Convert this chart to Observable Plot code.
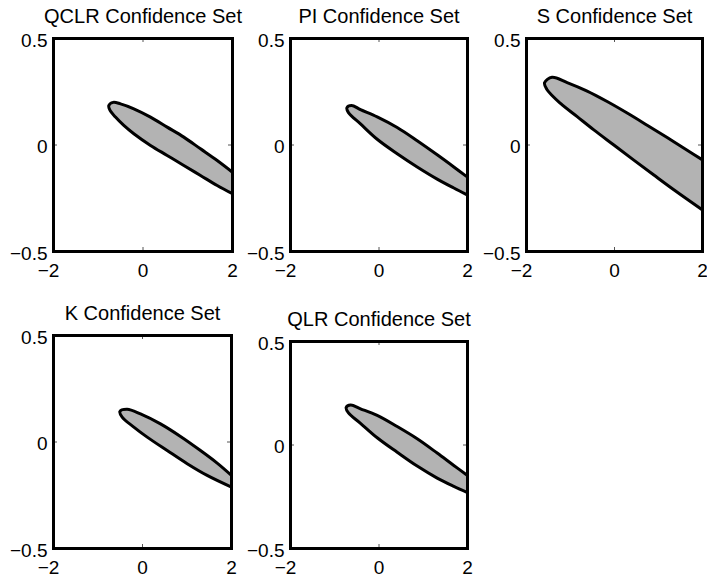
<!DOCTYPE html>
<html><head><meta charset="utf-8">
<script src="https://cdn.jsdelivr.net/npm/d3@7"></script>
<script src="https://cdn.jsdelivr.net/npm/@observablehq/plot@0.6"></script>
<style>
html,body{margin:0;padding:0;background:#fff;overflow:hidden;}
#root{position:relative;width:707px;height:582px;overflow:hidden;font-family:"Liberation Sans",Arial,Helvetica,sans-serif;}
#root svg{position:absolute;}
</style></head><body><div id="root"></div>
<script>
const titles = ["QCLR Confidence Set", "PI Confidence Set", "S Confidence Set", "K Confidence Set", "QLR Confidence Set"];
const xTicks = [-2, 0, 2];
const yTicks = [-0.5, 0, 0.5];

// boundary of each confidence set: upper edge (right to left), rounded tip, lower edge (left to right)
const qclrX = [2, 1.658, 1.285, 0.912, 0.540, 0.168, -0.205, -0.503, -0.666, -0.764, -0.742, -0.615, -0.429, -0.205, 0.168, 0.540, 0.912, 1.285, 1.658, 2];
const qclrY = [-0.128, -0.073, -0.018, 0.037, 0.084, 0.131, 0.170, 0.193, 0.200, 0.185, 0.165, 0.131, 0.092, 0.053, -0.002, -0.049, -0.096, -0.143, -0.190, -0.229];

const piX = [2, 1.691, 1.315, 0.863, 0.411, -0.041, -0.418, -0.620, -0.725, -0.690, -0.418, -0.041, 0.411, 0.863, 1.315, 1.691, 2];
const piY = [-0.151, -0.103, -0.046, 0.020, 0.082, 0.132, 0.166, 0.186, 0.175, 0.152, 0.099, 0.027, -0.041, -0.103, -0.160, -0.202, -0.235];

const sX = [2, 1.652, 1.197, 0.742, 0.288, -0.167, -0.621, -1.076, -1.420, -1.590, -1.540, -1.227, -0.848, -0.470, -0.015, 0.439, 0.894, 1.348, 2];
const sY = [-0.070, -0.025, 0.035, 0.093, 0.150, 0.204, 0.253, 0.293, 0.318, 0.292, 0.262, 0.195, 0.133, 0.071, 0.000, -0.071, -0.141, -0.210, -0.305];

const kX = [2, 1.678, 1.303, 0.854, 0.404, -0.045, -0.345, -0.509, -0.457, -0.195, 0.105, 0.554, 1.004, 1.453, 2];
const kY = [-0.157, -0.099, -0.040, 0.026, 0.085, 0.132, 0.154, 0.143, 0.117, 0.070, 0.023, -0.040, -0.102, -0.157, -0.212];

const qlrX = [2, 1.691, 1.315, 0.863, 0.411, -0.041, -0.418, -0.640, -0.742, -0.690, -0.418, -0.041, 0.411, 0.863, 1.315, 1.691, 2];
const qlrY = [-0.147, -0.099, -0.039, 0.030, 0.089, 0.143, 0.175, 0.193, 0.181, 0.155, 0.105, 0.035, -0.035, -0.102, -0.160, -0.200, -0.230];

const sets = [[qclrX, qclrY], [piX, piY], [sX, sY], [kX, kY], [qlrX, qlrY]];

// layout of each axes box (pixels): left, top, width, height
const layout = [
  {fx: 53, fy: 38, fw: 179, fh: 213},
  {fx: 290, fy: 38, fw: 177, fh: 213},
  {fx: 526, fy: 38, fw: 176, fh: 213},
  {fx: 53, fy: 335, fw: 178, fh: 213},
  {fx: 290, fy: 341, fw: 177, fh: 207}
];

const fmt = d => String(d).replace("-", "\u2212");
const root = document.getElementById("root");
const mL = 60, mR = 14, mT = 34, mB = 40;

sets.forEach(([X, Y], i) => {
  const L = layout[i];
  const pts = X.map((x, j) => ({x, y: Y[j]}));
  const tx = 4 / L.fw * 4, ty = 4 / L.fh;
  const chart = Plot.plot({
    width: L.fw + mL + mR,
    height: L.fh + mT + mB,
    marginLeft: mL, marginRight: mR, marginTop: mT, marginBottom: mB,
    style: {fontFamily: '"Liberation Sans", Arial, Helvetica, sans-serif', fontSize: "19px", background: "transparent", overflow: "visible", color: "black"},
    x: {domain: [-2, 2], label: null},
    y: {domain: [-0.5, 0.5], label: null},
    marks: [
      Plot.line(pts, {x: "x", y: "y", curve: "catmull-rom", fill: "#b3b3b3", stroke: "black", strokeWidth: 3, strokeLinejoin: "round", clip: true}),
      Plot.ruleX(xTicks, {y1: -0.5, y2: -0.5 + ty, stroke: "#555", strokeWidth: 1}),
      Plot.ruleX(xTicks, {y1: 0.5, y2: 0.5 - ty, stroke: "#555", strokeWidth: 1}),
      Plot.ruleY(yTicks, {x1: -2, x2: -2 + tx, stroke: "#555", strokeWidth: 1}),
      Plot.ruleY(yTicks, {x1: 2, x2: 2 - tx, stroke: "#555", strokeWidth: 1}),
      Plot.frame({stroke: "black", strokeWidth: 3}),
      Plot.axisX(xTicks.filter(t => t < 0), {tickSize: 0, tickPadding: 12, tickFormat: fmt, label: null, dx: -5}),
      Plot.axisX(xTicks.filter(t => t >= 0), {tickSize: 0, tickPadding: 12, tickFormat: fmt, label: null}),
      Plot.axisY(yTicks, {tickSize: 0, tickPadding: 6, tickFormat: fmt, dy: 2, label: null}),
      Plot.text([titles[i]], {frameAnchor: "top", lineAnchor: "bottom", dy: -16, fontSize: 20})
    ]
  });
  chart.style.left = (L.fx - mL) + "px";
  chart.style.top = (L.fy - mT) + "px";
  root.appendChild(chart);
});
</script>
</body></html>
